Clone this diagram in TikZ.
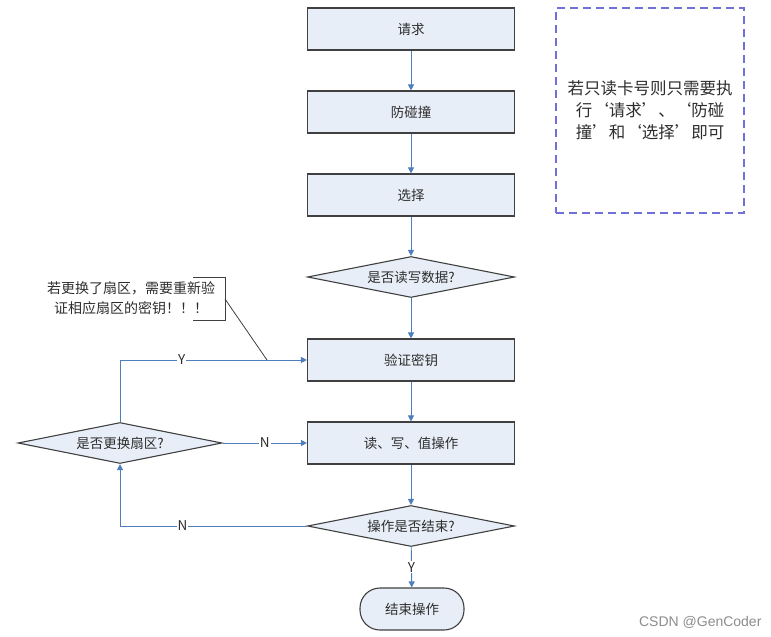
\documentclass[tikz,border=0pt]{standalone}
\usepackage{fontspec}
\setmainfont{Noto Sans CJK SC}
\newfontfamily\wmfont{Liberation Sans}
\usetikzlibrary{shapes.geometric,arrows.meta}

\definecolor{boxfill}{RGB}{232,238,247}
\definecolor{boxline}{RGB}{64,64,64}
\definecolor{flowline}{RGB}{79,126,189}
\definecolor{notedash}{RGB}{112,112,214}
\definecolor{txt}{RGB}{45,45,45}

\tikzset{
	stepbox/.style={draw=boxline, fill=boxfill, line width=1.1pt, minimum width=207pt, minimum height=42pt, text=txt, font=\fontsize{13.5}{16}\selectfont},
	decision/.style={diamond, draw=boxline, fill=boxfill, line width=1.1pt, aspect=5, inner sep=0pt, minimum width=207pt, minimum height=41pt, text=txt, font=\fontsize{13.5}{16}\selectfont},
	terminal/.style={draw=boxline, fill=boxfill, line width=1.1pt, rounded corners=20pt, minimum width=104pt, minimum height=42pt, text=txt, font=\fontsize{13.5}{16}\selectfont},
	flow/.style={draw=flowline, line width=0.9pt, -{Triangle[width=6pt,length=6pt]}},
	yn/.style={fill=white, inner sep=1pt, text=txt, font=\fontsize{13.5}{15}\selectfont},
}

\begin{document}
\begin{tikzpicture}[x=1pt, y=-1pt]
		\useasboundingbox (0,0) rectangle (771,637);

		% main column
		\node[stepbox] (req) at (411,29) {请求};
		\node[stepbox] (anti) at (411,112) {防碰撞};
		\node[stepbox] (sel) at (411,195) {选择};
		\node[decision] (rw) at (411,277) {是否读写数据?};
		\node[stepbox] (auth) at (411,360) {验证密钥};
		\node[stepbox] (op) at (411,443) {读、写、值操作};
		\node[decision] (done) at (411,526) {操作是否结束?};
		\node[terminal] (fin) at (412,609) {结束操作};

		% sector loop
		\node[decision, minimum width=204pt] (sector) at (120,443) {是否更换扇区?};

		\draw[flow] (req) -- (anti);
		\draw[flow] (anti) -- (sel);
		\draw[flow] (sel) -- (rw);
		\draw[flow] (rw) -- (auth);
		\draw[flow] (auth) -- (op);
		\draw[flow] (op) -- (done);
		\draw[flow] (done) -- node[yn] {Y} (fin);
		\draw[flow] (sector.north) |- node[yn, pos=0.665] {Y} (auth.west);
		\draw[flow] (sector) -- node[yn] {N} (op);
		\draw[flow] (done.west) -| node[yn, pos=0.333] {N} (sector.south);

		% remark on the key
		\node[text=txt, align=center, font=\fontsize{14}{20}\selectfont] (warn) at (131,298) {若更换了扇区，需要重新验\\证相应扇区的密钥！！！};
		\coordinate (brk) at (225,299);
		\coordinate (tap) at (267,360);
		\draw[boxline, line width=0.9pt] (193,277) -- (225,277) -- (225,320) -- (193,320);
		\draw[boxline, line width=0.8pt] (brk) -- (tap);

		% side note
		\node[draw=notedash, line width=1.2pt, dash pattern=on 8pt off 5pt, minimum width=188pt, minimum height=205pt, text=txt, align=center, font=\fontsize{16.5}{22}\selectfont] (hint) at (650,110.5) {若只读卡号则只需要执\\行‘请求’、‘防碰\\撞’和‘选择’即可};

		\node[anchor=east, text=black!45, font=\wmfont\fontsize{14}{16}\selectfont] (mark) at (765,622) {CSDN @GenCoder};
	\end{tikzpicture}
\end{document}
